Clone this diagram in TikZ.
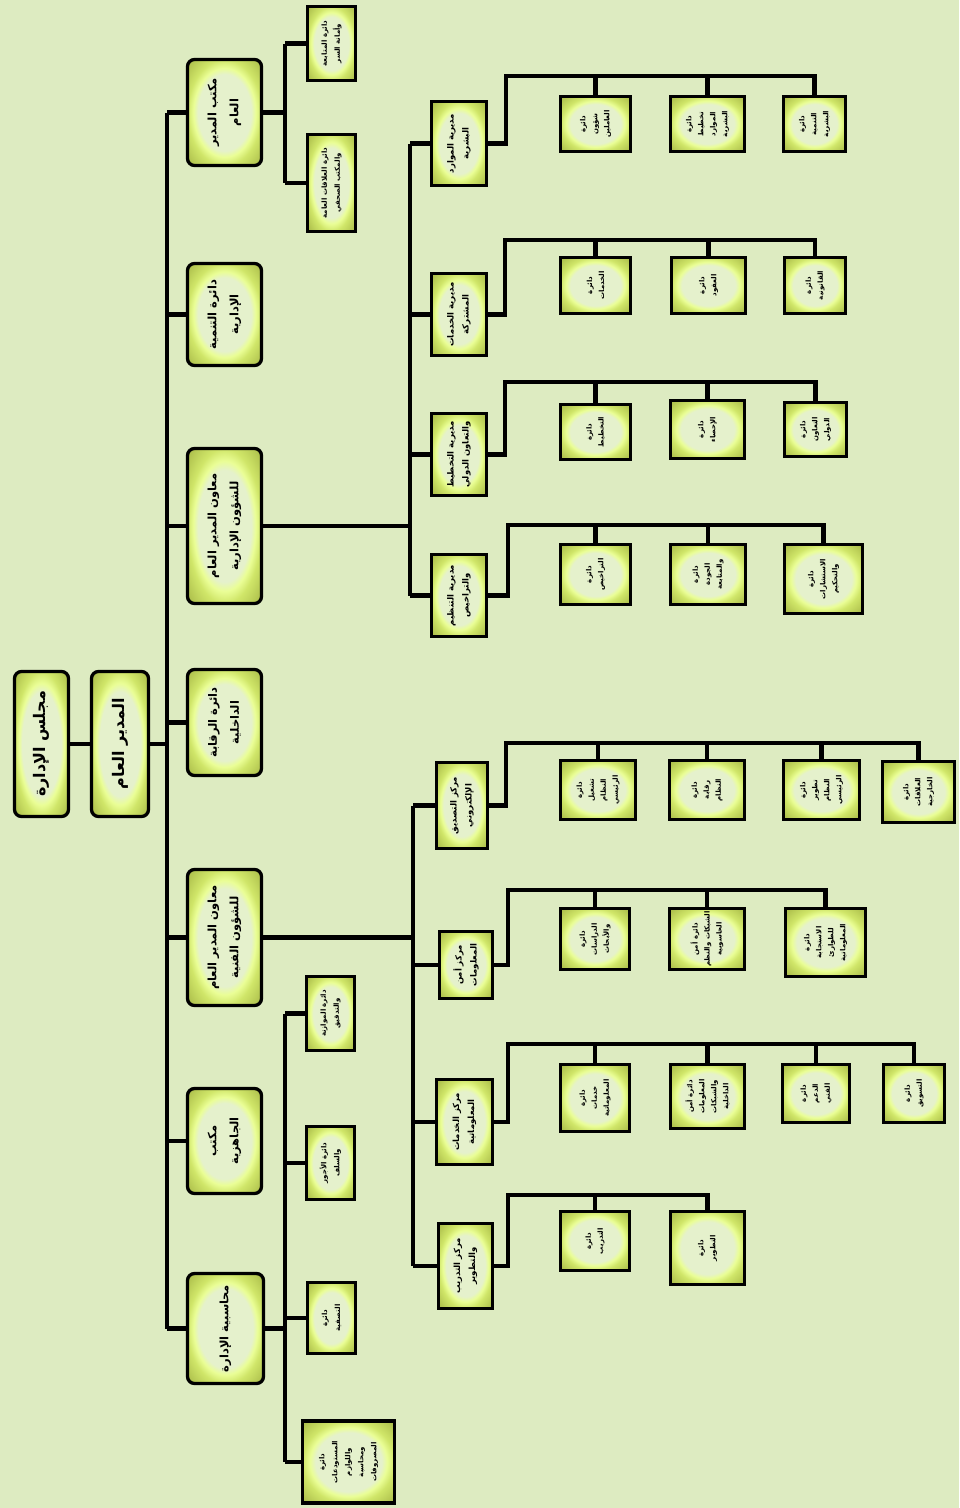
\documentclass[tikz,border=0pt]{standalone}
\usepackage{fontspec}
\newfontfamily\arf[Script=Arabic]{DejaVu Sans}
\TeXXeTstate=1
\definecolor{bgc}{RGB}{221,235,193}
\definecolor{cin}{RGB}{229,241,204}
\definecolor{cring}{RGB}{234,254,150}
\definecolor{cmid}{RGB}{208,230,105}
\definecolor{cdark}{RGB}{172,190,75}
\pgfdeclareradialshading{boxshade}{\pgfpoint{0bp}{0bp}}{color(0bp)=(cin); color(18bp)=(cin); color(21bp)=(cring); color(25bp)=(cmid); color(34bp)=(cdark); color(50bp)=(cdark)}
\newcommand\artx[1]{\beginR #1\endR}
\newcommand\mkbox[7]{\node[#2, minimum width=#6pt, minimum height=#5pt] (#1) at (#3,#4) {#7};}
\begin{document}
\begin{tikzpicture}[x=1pt,y=-1pt,
  conn/.style={line width=4.2pt},
  basebox/.style={rotate=90, draw=black, line width=3.3pt, shading=boxshade, inner sep=0pt, align=center, text=black},
  topbox/.style={basebox, rounded corners=7pt, font=\arf\bfseries\fontsize{16}{20}\selectfont},
  secbox/.style={basebox, rounded corners=7pt, font=\arf\bfseries\fontsize{11.5}{22}\selectfont},
  dirbox/.style={basebox, font=\arf\bfseries\fontsize{8.5}{15}\selectfont},
  smallbox/.style={basebox, font=\arf\bfseries\fontsize{7}{13}\selectfont},
  leafbox/.style={basebox, font=\arf\bfseries\fontsize{7}{12}\selectfont}]
\fill[bgc] (0,0) rectangle (959,1508);
\useasboundingbox (0,0) rectangle (959,1508);

% bus positions
\coordinate (mb) at (167,0);
\coordinate (sb) at (285,0);
\coordinate (ab) at (410,0);
\coordinate (tb) at (413,0);
\coordinate (g1T) at (506,76);
\coordinate (g2T) at (505,240);
\coordinate (g3T) at (505,382);
\coordinate (g4T) at (508,525);
\coordinate (h1T) at (506,743);
\coordinate (h2T) at (508,890);
\coordinate (h3T) at (508,1044);
\coordinate (h4T) at (508,1195);

% level 0/1
\mkbox{bod}{topbox}{41.5}{744}{54}{145}{\artx{مجلس الإدارة}}
\mkbox{gm}{topbox}{120}{744}{57}{145}{\artx{المدير العام}}

% level 2
\mkbox{ogm}{secbox}{224.5}{112.5}{74}{106}{\artx{مكتب المدير}\\\artx{العام}}
\mkbox{dev}{secbox}{224.5}{314.5}{74}{102}{\artx{دائرة التنمية}\\\artx{الإدارية}}
\mkbox{adm}{secbox}{224.5}{526}{74}{155}{\artx{معاون المدير العام}\\\artx{للشؤون الإدارية}}
\mkbox{aud}{secbox}{224.5}{722.5}{74}{106}{\artx{دائرة الرقابة}\\\artx{الداخلية}}
\mkbox{tec}{secbox}{224.5}{937.5}{74}{136}{\artx{معاون المدير العام}\\\artx{للشؤون الفنية}}
\mkbox{rdy}{secbox}{224.5}{1141}{74}{105}{\artx{مكتب}\\\artx{الجاهزية}}
\mkbox{acc}{secbox}{225.5}{1328.5}{76}{110}{\artx{محاسبية الإدارة}}

% small boxes
\mkbox{s1}{smallbox}{331.5}{43.5}{48}{74}{\artx{دائرة المتابعة}\\\artx{وأمانة السر}}
\mkbox{s2}{smallbox}{331.5}{183}{48}{97}{\artx{دائرة العلاقات العامة}\\\artx{والمكتب الصحفي}}
\mkbox{a1}{smallbox}{330.5}{1013.5}{48}{74}{\artx{دائرة الموازنة}\\\artx{والتدقيق}}
\mkbox{a2}{smallbox}{330.5}{1163}{48}{73}{\artx{دائرة الأجور}\\\artx{والسلف}}
\mkbox{a3}{smallbox}{331.5}{1318}{48}{71}{\artx{دائرة}\\\artx{التصفية}}
\mkbox{a4}{smallbox}{348.5}{1462}{92}{82}{\artx{دائرة}\\\artx{المستودعات}\\\artx{واللوازم}\\\artx{ومحاسبة}\\\artx{المصروفات}}

% directorates
\mkbox{d1}{dirbox}{459}{143.5}{55}{84}{\artx{مديرية الموارد}\\\artx{البشرية}}
\mkbox{d2}{dirbox}{459}{314.5}{55}{82}{\artx{مديرية الخدمات}\\\artx{المشتركة}}
\mkbox{d3}{dirbox}{459}{454.5}{55}{82}{\artx{مديرية التخطيط}\\\artx{والتعاون الدولي}}
\mkbox{d4}{dirbox}{459}{595.5}{55}{82}{\artx{مديرية التنظيم}\\\artx{والتراخيص}}
\mkbox{t1}{dirbox}{462}{805.5}{51}{86}{\artx{مركز التصديق}\\\artx{الإلكتروني}}
\mkbox{t2}{dirbox}{466}{965}{53}{67}{\artx{مركز أمن}\\\artx{المعلومات}}
\mkbox{t3}{dirbox}{464.5}{1122}{56}{85}{\artx{مركز الخدمات}\\\artx{المعلوماتية}}
\mkbox{t4}{dirbox}{465.5}{1266}{54}{85}{\artx{مركز التدريب}\\\artx{والتطوير}}

% leaves admin
\mkbox{l11}{leafbox}{595.5}{124}{70}{55}{\artx{دائرة}\\\artx{شؤون}\\\artx{العاملين}}
\mkbox{l12}{leafbox}{707.5}{124}{74}{55}{\artx{دائرة}\\\artx{تخطيط}\\\artx{الموارد}\\\artx{البشرية}}
\mkbox{l13}{leafbox}{814.5}{124}{62}{55}{\artx{دائرة}\\\artx{التنمية}\\\artx{البشرية}}
\mkbox{l21}{leafbox}{595.5}{285.5}{70}{56}{\artx{دائرة}\\\artx{الخدمات}}
\mkbox{l22}{leafbox}{708.5}{285.5}{74}{56}{\artx{دائرة}\\\artx{العقود}}
\mkbox{l23}{leafbox}{815}{285.5}{61}{56}{\artx{دائرة}\\\artx{القانونية}}
\mkbox{l31}{leafbox}{595.5}{432}{70}{55}{\artx{دائرة}\\\artx{التخطيط}}
\mkbox{l32}{leafbox}{707.5}{429.5}{74}{58}{\artx{دائرة}\\\artx{الإحصاء}}
\mkbox{l33}{leafbox}{815.5}{429.5}{62}{54}{\artx{دائرة}\\\artx{التعاون}\\\artx{الدولي}}
\mkbox{l41}{leafbox}{595.5}{574.5}{70}{60}{\artx{دائرة}\\\artx{التراخيص}}
\mkbox{l42}{leafbox}{708}{574.5}{75}{60}{\artx{دائرة}\\\artx{الجودة}\\\artx{والمتابعة}}
\mkbox{l43}{leafbox}{823.5}{579}{78}{69}{\artx{دائرة}\\\artx{الاستشارات}\\\artx{والتحكيم}}

% leaves technical
\mkbox{m11}{leafbox}{598}{790}{75}{59}{\artx{دائرة}\\\artx{تشغيل}\\\artx{النظام}\\\artx{الرئيسي}}
\mkbox{m12}{leafbox}{707}{790}{75}{59}{\artx{دائرة}\\\artx{رقابة}\\\artx{النظام}}
\mkbox{m13}{leafbox}{821.5}{790}{76}{59}{\artx{دائرة}\\\artx{تطوير}\\\artx{النظام}\\\artx{الرئيسي}}
\mkbox{m14}{leafbox}{918.5}{792}{72}{61}{\artx{دائرة}\\\artx{العلاقات}\\\artx{الخارجية}}
\mkbox{m21}{leafbox}{595}{939}{69}{61}{\artx{دائرة}\\\artx{الدراسات}\\\artx{والأبحاث}}
\mkbox{m22}{leafbox}{707}{939}{75}{61}{\artx{دائرة أمن}\\\artx{الشبكات والنظم}\\\artx{الحاسوبية}}
\mkbox{m23}{leafbox}{825.5}{942.5}{80}{68}{\artx{دائرة}\\\artx{الاستجابة}\\\artx{للطوارئ}\\\artx{المعلوماتية}}
\mkbox{m31}{leafbox}{595}{1098}{69}{67}{\artx{دائرة}\\\artx{خدمات}\\\artx{المعلوماتية}}
\mkbox{m32}{leafbox}{707.5}{1096.5}{74}{64}{\artx{دائرة أمن}\\\artx{المعلومات}\\\artx{والشبكات}\\\artx{الداخلية}}
\mkbox{m33}{leafbox}{816}{1093.5}{67}{58}{\artx{دائرة}\\\artx{الدعم}\\\artx{الفني}}
\mkbox{m34}{leafbox}{914}{1093.5}{61}{58}{\artx{دائرة}\\\artx{التسويق}}
\mkbox{m41}{leafbox}{595}{1241}{69}{59}{\artx{دائرة}\\\artx{التدريب}}
\mkbox{m42}{leafbox}{707.5}{1248}{74}{73}{\artx{دائرة}\\\artx{التطوير}}

% connectors: top levels
\draw[conn] (bod.south) -- (gm.north);
\draw[conn] (gm.south) -- (gm.south -| mb);
\draw[conn] (ogm.north -| mb) -- (acc.north -| mb);
\foreach \c in {ogm,dev,adm,aud,tec,rdy,acc}
  \draw[conn] (\c.north) -- (\c.north -| mb);

% office of GM
\draw[conn] (ogm.south) -- (ogm.south -| sb);
\draw[conn] (s1.north -| sb) -- (s2.north -| sb);
\foreach \c in {s1,s2} \draw[conn] (\c.north) -- (\c.north -| sb);

% accounting
\draw[conn] (acc.south) -- (acc.south -| sb);
\draw[conn] (a1.north -| sb) -- (a4.north -| sb);
\foreach \c in {a1,a2,a3,a4} \draw[conn] (\c.north) -- (\c.north -| sb);

% admin assistant
\draw[conn] (adm.south) -- (adm.south -| ab);
\draw[conn] (d1.north -| ab) -- (d4.north -| ab);
\foreach \c in {d1,d2,d3,d4} \draw[conn] (\c.north) -- (\c.north -| ab);

% technical assistant
\draw[conn] (tec.south) -- (tec.south -| tb);
\draw[conn] (t1.north -| tb) -- (t4.north -| tb);
\foreach \c in {t1,t2,t3,t4} \draw[conn] (\c.north) -- (\c.north -| tb);

% directorate groups
\draw[conn] (d1.south) -| (g1T) -| (l13.east);
\foreach \c in {l11,l12} \draw[conn] (\c.east) -- (\c.east |- g1T);
\draw[conn] (d2.south) -| (g2T) -| (l23.east);
\foreach \c in {l21,l22} \draw[conn] (\c.east) -- (\c.east |- g2T);
\draw[conn] (d3.south) -| (g3T) -| (l33.east);
\foreach \c in {l31,l32} \draw[conn] (\c.east) -- (\c.east |- g3T);
\draw[conn] (d4.south) -| (g4T) -| (l43.east);
\foreach \c in {l41,l42} \draw[conn] (\c.east) -- (\c.east |- g4T);

\draw[conn] (t1.south) -| (h1T) -| (m14.east);
\foreach \c in {m11,m12,m13} \draw[conn] (\c.east) -- (\c.east |- h1T);
\draw[conn] (t2.south) -| (h2T) -| (m23.east);
\foreach \c in {m21,m22} \draw[conn] (\c.east) -- (\c.east |- h2T);
\draw[conn] (t3.south) -| (h3T) -| (m34.east);
\foreach \c in {m31,m32,m33} \draw[conn] (\c.east) -- (\c.east |- h3T);
\draw[conn] (t4.south) -| (h4T) -| (m42.east);
\draw[conn] (m41.east) -- (m41.east |- h4T);
\end{tikzpicture}
\end{document}
